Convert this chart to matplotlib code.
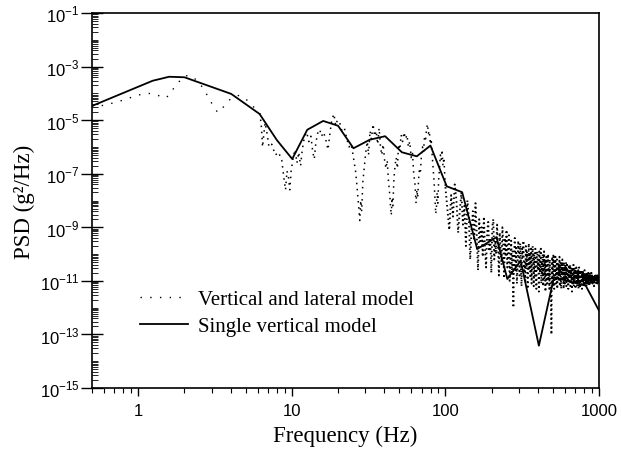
import matplotlib.pyplot as plt
import numpy as np
from matplotlib.lines import Line2D
from matplotlib.ticker import FixedLocator, FixedFormatter, LogLocator, NullFormatter

plt.rcParams['font.family'] = 'Liberation Sans'
plt.rcParams['mathtext.fontset'] = 'custom'
plt.rcParams['mathtext.rm'] = 'Liberation Sans'

# single vertical model, log10 PSD
single_f = [0.5, 1.24, 1.59, 2.0, 4.03, 6.17, 7.98, 10.06, 12.6, 16.0, 20.0,
            25.2, 32.2, 40.5, 52.1, 65.1, 79.9, 102, 128.5, 161, 215, 253,
            309, 406, 509, 820, 1000]
single_v = [-4.47, -3.53, -3.38, -3.40, -4.02, -4.77, -5.74, -6.45, -5.36,
            -5.03, -5.21, -6.05, -5.73, -5.60, -6.20, -6.35, -5.95, -7.47,
            -7.69, -9.81, -9.37, -10.93, -10.25, -13.42, -10.87, -11.18, -12.11]

# vertical and lateral model, log10 PSD
lo_f = [0.5, 0.6, 0.8, 1.0, 1.2, 1.35, 1.5, 1.6, 1.75, 2.0, 2.2, 2.5, 2.8,
        3.1, 3.3, 3.6, 4.0, 4.5, 5.0, 5.5, 6.0, 6.2]
lo_v = [-4.47, -4.45, -4.25, -4.06, -4.0, -4.08, -4.18, -4.05, -3.7, -3.35,
        -3.33, -3.6, -4.05, -4.5, -4.72, -4.5, -4.2, -4.08, -4.2, -4.45, -4.65,
        -4.75]

mid_f = [6.2, 6.35, 6.45, 6.55, 6.7, 6.9, 7.1, 7.4, 7.8, 8.2, 8.6, 8.9, 9.1,
         9.3, 9.5, 9.7, 9.9, 10.2, 10.5, 10.8, 11.1, 11.4, 11.7, 12.1, 12.5,
         12.9, 13.3, 13.7, 14.0, 14.3, 14.7, 15.2, 15.6, 16.1, 16.6, 17.2,
         17.7, 18.2, 18.8, 19.3, 19.8, 20.5, 21.2, 22.0, 22.8, 23.6, 24.4,
         25.2, 26.0, 26.6, 27.2, 27.7, 28.1, 28.5, 29.0, 29.6, 30.3, 31.0,
         31.6, 32.3, 33.0, 33.8, 34.6, 35.4, 36.2, 37.0, 37.8, 38.5, 39.3,
         40.2, 41.0, 41.8, 42.6, 43.3, 43.9, 44.4, 44.9, 45.5, 46.2, 47.0,
         47.8, 48.7, 49.5, 50.5, 51.5, 52.6, 53.8, 55.0, 56.2, 57.4, 58.6,
         59.8, 61.0, 62.2, 63.4, 64.4, 65.2, 66.0, 66.9, 67.8, 68.8, 69.8,
         70.9, 72.0, 73.1, 74.3, 75.5, 76.5, 77.5, 78.6, 79.7, 80.8, 82.0,
         83.2, 84.4, 85.5, 86.5, 87.4, 88.3, 89.3, 90.4, 91.5, 92.7, 93.9,
         95.1, 96.4, 97.7, 100]
mid_v = [-4.75, -5.3, -6.0, -5.6, -5.1, -5.5, -6.0, -5.9, -6.3, -6.2, -6.5,
         -7.2, -7.6, -6.9, -7.1, -7.6, -6.9, -6.4, -6.1, -6.6, -6.2, -6.7,
         -6.1, -5.6, -5.45, -5.8, -5.6, -6.2, -6.45, -5.9, -5.5, -5.35, -5.6,
         -5.45, -5.7, -6.1, -5.5, -5.0, -4.77, -5.2, -5.0, -5.1, -5.4, -5.3,
         -5.7, -6.0, -5.9, -6.4, -6.9, -7.5, -8.2, -8.75, -8.0, -8.4, -7.3,
         -6.8, -6.2, -5.8, -6.3, -5.4, -5.7, -5.15, -5.6, -5.4, -5.9, -5.3,
         -6.0, -6.3, -5.9, -6.5, -6.8, -6.5, -7.3, -7.7, -8.2, -8.55, -7.9,
         -8.2, -7.2, -6.7, -6.4, -6.8, -5.9, -6.1, -5.55, -5.8, -5.45, -5.7,
         -5.55, -6.0, -5.8, -6.4, -6.2, -7.0, -7.4, -8.1, -7.6, -7.9, -7.2,
         -6.8, -6.9, -6.3, -6.0, -6.2, -5.6, -5.7, -5.3, -5.15, -5.5, -5.4,
         -5.9, -5.7, -6.3, -6.8, -7.3, -7.9, -8.5, -8.3, -7.7, -8.1, -7.2,
         -6.8, -6.3, -6.5, -6.1, -6.7, -6.4, -7.5]

# 100 .. 1000 Hz every 3 Hz
hi_f = np.arange(100, 1001, 3)
hi_v = [
    -7.5, -8.3, -9.1, -7.8, -8.6, -7.4, -8.0, -9.2, -8.4, -7.7,
    -8.9, -8.2, -9.7, -8.0, -8.6, -10.2, -9.1, -8.4, -9.5, -8.1,
    -9.3, -10.6, -8.7, -9.6, -9.0, -10.1, -8.6, -9.8, -10.5, -9.2,
    -8.8, -9.9, -9.4, -10.7, -9.0, -8.7, -10.2, -9.5, -10.0, -8.9,
    -9.7, -10.8, -9.2, -9.9, -10.4, -9.0, -9.6, -10.9, -9.4, -10.1,
    -9.1, -10.5, -9.8, -9.3, -11.0, -10.2, -9.5, -10.7, -9.9, -12.0,
    -10.0, -9.4, -10.6, -9.7, -11.1, -10.3, -9.5, -10.0, -10.8, -9.6,
    -10.4, -11.2, -9.8, -10.1, -9.5, -10.7, -10.3, -11.0, -9.7, -10.5,
    -9.9, -11.3, -10.2, -9.6, -10.6, -10.0, -10.9, -9.8, -11.1, -10.4,
    -9.7, -10.3, -11.2, -10.0, -10.8, -9.8, -10.5, -11.3, -10.1, -9.9,
    -10.6, -10.2, -11.4, -9.9, -10.7, -10.4, -9.8, -11.1, -10.3, -10.8,
    -10.0, -11.2, -10.5, -9.9, -10.9, -10.2, -11.4, -10.6, -10.1, -10.8,
    -11.1, -10.3, -10.0, -10.9, -10.5, -11.3, -10.2, -10.7, -11.0, -11.6,
    -13.0, -10.6, -10.1, -11.2, -10.4, -10.0, -10.8, -11.3, -10.3, -10.7,
    -10.1, -11.1, -10.5, -10.9, -10.2, -11.3, -10.6, -10.3, -11.0, -10.4,
    -10.8, -10.1, -11.2, -10.6, -10.3, -10.9, -11.3, -10.4, -10.7, -10.2,
    -11.0, -10.5, -10.8, -11.3, -10.3, -10.6, -11.1, -10.4, -10.9, -10.5,
    -10.3, -11.2, -10.7, -10.4, -11.0, -10.6, -10.8, -11.3, -10.5, -10.4,
    -11.1, -10.6, -10.9, -10.4, -11.2, -10.7, -10.5, -11.0, -10.8, -11.4,
    -10.5, -10.9, -11.1, -10.6, -10.4, -11.2, -10.8, -10.6, -11.0, -10.5,
    -10.8, -11.3, -10.6, -10.9, -10.5, -11.1, -10.7, -11.2, -10.6, -10.8,
    -11.0, -10.6, -11.3, -10.8, -10.5, -10.9, -11.1, -10.7, -11.2, -10.6,
    -10.9, -11.1, -10.6, -11.0, -10.8, -11.3, -10.7, -10.9, -10.6, -11.1,
    -10.8, -11.0, -10.7, -11.2, -10.9, -10.6, -11.1, -10.8, -11.0, -10.7,
    -11.1, -10.8, -10.9, -11.2, -10.7, -11.0, -10.8, -11.1, -10.7, -10.9,
    -11.0, -10.7, -11.1, -10.9, -10.8, -11.2, -10.8, -10.9, -11.0, -10.7,
    -11.1, -10.8, -11.0, -10.9, -10.7, -11.1, -10.9, -10.8, -11.0, -11.1,
    -10.8, -10.9, -11.1, -10.8, -11.0, -10.9, -11.2, -10.8, -10.9, -11.0,
    -10.9, -11.1, -10.8, -11.0, -10.9, -10.8, -11.1, -10.9, -11.0, -10.8,
    -11.0, -10.9, -11.1, -10.8, -11.0, -10.9, -10.8, -11.0, -10.9, -11.1,
    -10.9]

x_ticks = [1, 10, 100, 1000]
y_exps = [-15, -13, -11, -9, -7, -5, -3, -1]

fig = plt.figure(figsize=(6.21, 4.56), dpi=100)
ax = fig.add_axes([92 / 621, 1 - 389 / 456, 507 / 621, 375 / 456])

sparse = (0, (1, 6))
ax.plot(lo_f, 10.0 ** np.array(lo_v), color='black', lw=1.0, linestyle=sparse)
ax.plot(mid_f, 10.0 ** np.array(mid_v), color='black', lw=1.1,
        linestyle=(0, (1, 3)))
ax.plot(hi_f, 10.0 ** np.array(hi_v), color='black', lw=1.35,
        linestyle=(0, (0.8, 1.6)))
ax.plot(single_f, 10.0 ** np.array(single_v), color='black', lw=1.3)

ax.set_xscale('log')
ax.set_yscale('log')
ax.set_xlim(0.5, 1000)
ax.set_ylim(1e-15, 1e-1)

ax.xaxis.set_major_locator(FixedLocator(x_ticks))
ax.xaxis.set_major_formatter(FixedFormatter([str(t) for t in x_ticks]))
ax.xaxis.set_minor_locator(LogLocator(base=10, subs=np.arange(2, 10), numticks=50))
ax.xaxis.set_minor_formatter(NullFormatter())

ax.yaxis.set_major_locator(FixedLocator([10.0 ** e for e in y_exps]))
ax.yaxis.set_major_formatter(FixedFormatter([r'$10^{%d}$' % e for e in y_exps]))
ax.yaxis.set_minor_locator(LogLocator(base=10, subs=np.arange(1, 10), numticks=100))
ax.yaxis.set_minor_formatter(NullFormatter())

ax.tick_params(axis='x', which='major', direction='out', length=6, width=1,
               labelsize=12, pad=5)
ax.tick_params(axis='x', which='minor', direction='out', length=3.5, width=0.8)
ax.tick_params(axis='y', which='major', direction='inout', length=16, width=1,
               labelsize=12, pad=1)
ax.tick_params(axis='y', which='minor', direction='in', length=4, width=0.6)
for s in ax.spines.values():
    s.set_linewidth(1.2)

ax.set_xlabel('Frequency (Hz)', fontfamily='Liberation Serif', fontsize=16.5,
              labelpad=5)
ax.set_ylabel('PSD (g²/Hz)', fontfamily='Liberation Serif', fontsize=16.5,
              labelpad=3)

handles = [Line2D([], [], color='black', lw=1.0, linestyle=sparse),
           Line2D([], [], color='black', lw=1.3)]
ax.legend(handles, ['Vertical and lateral model', 'Single vertical model'],
          loc='upper left', bbox_to_anchor=(0.0947, 0.262), frameon=False,
          borderpad=0, borderaxespad=0, handlelength=2.3, handletextpad=0.5,
          labelspacing=0.35, prop={'family': 'Liberation Serif', 'size': 15})

fig.savefig('out.png', dpi=100)
